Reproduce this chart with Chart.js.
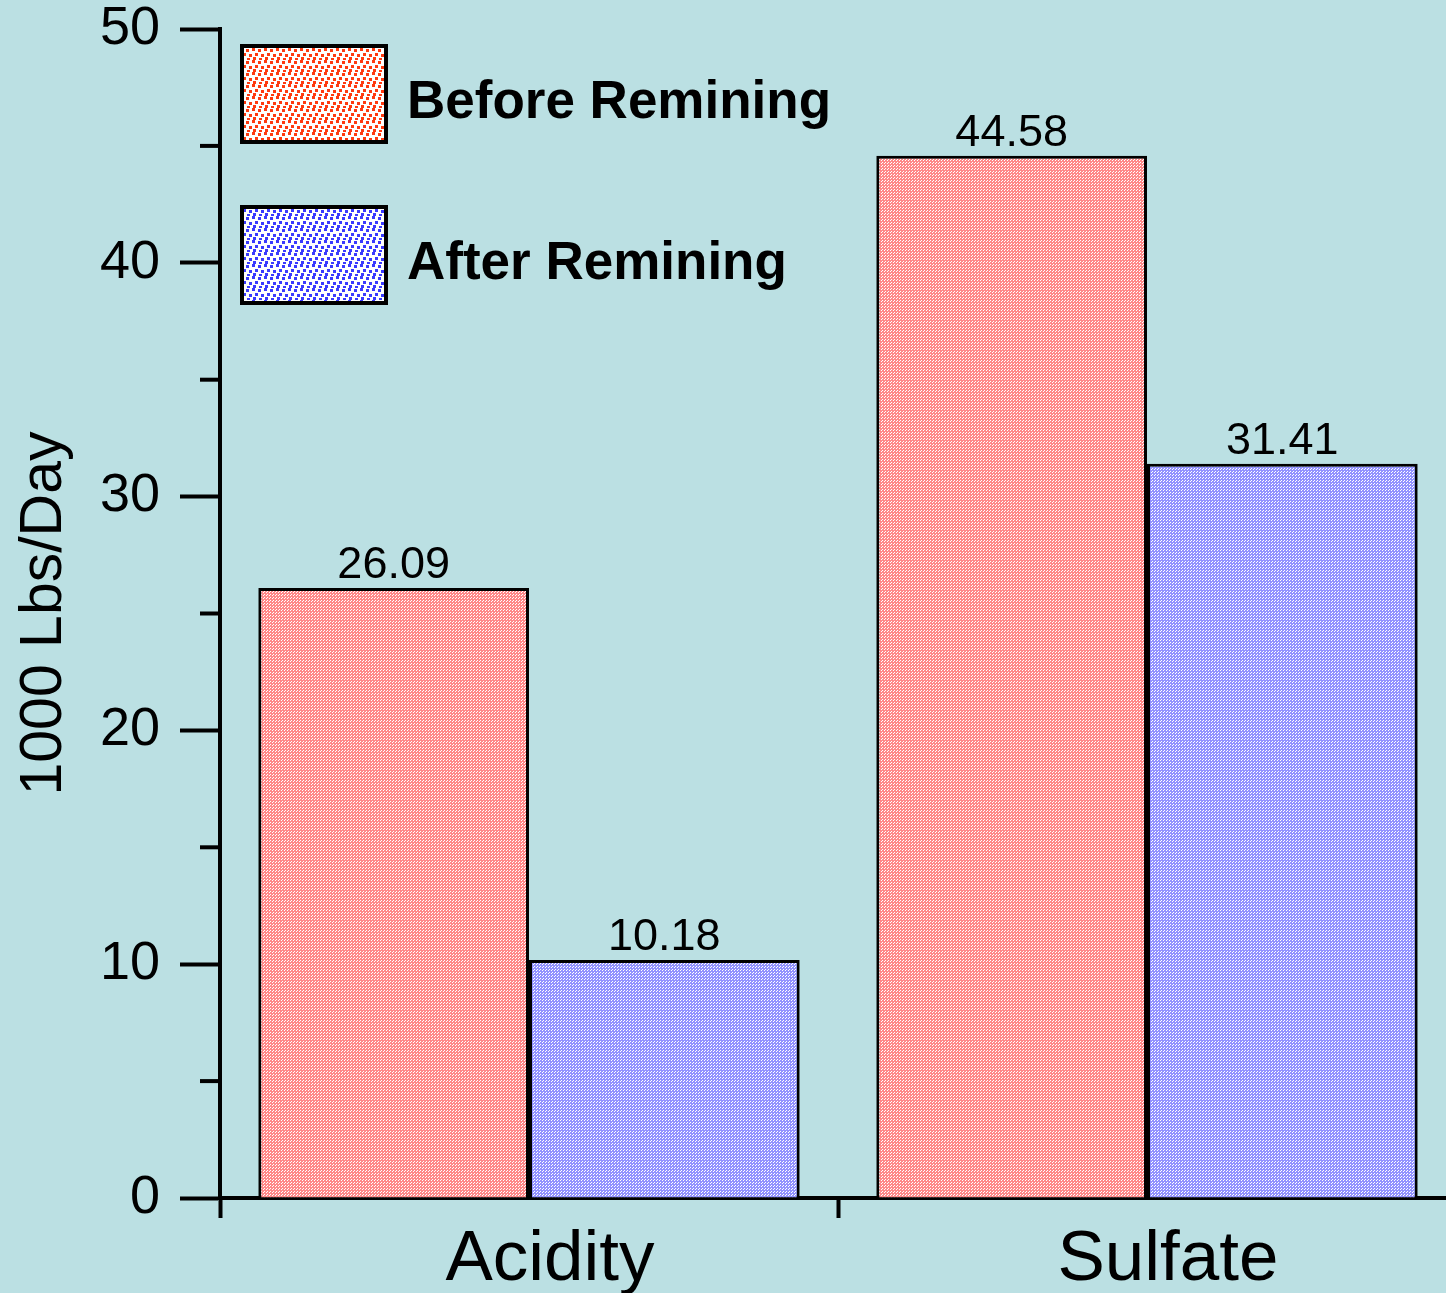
<!DOCTYPE html>
<html>
<head>
<meta charset="utf-8">
<title>Remining loads</title>
<script src="https://cdn.jsdelivr.net/npm/chart.js@4.4.0/dist/chart.umd.min.js"></script>
<style>
  html, body { margin: 0; padding: 0; overflow: hidden; background: #bbe0e3; }
  #wrap { width: 1500px; height: 1293px; position: relative; }
</style>
</head>
<body>
<div id="wrap"><canvas id="myChart"></canvas></div>
<script>
// data
const categories = ['Acidity', 'Sulfate'];
const seriesNames = ['Before Remining', 'After Remining'];
const beforeValues = [26.09, 44.58];
const afterValues = [10.18, 31.41];
const yTicks = [0, 10, 20, 30, 40, 50];
const yMinorTicks = [5, 15, 25, 35, 45];

const FONT = '"Liberation Sans", Arial, Helvetica, sans-serif';

// fine dither fill used on the bars
function finePattern(base) {
  const c = document.createElement('canvas');
  c.width = 3; c.height = 3;
  const g = c.getContext('2d');
  g.fillStyle = base;
  g.fillRect(0, 0, 3, 3);
  g.fillStyle = '#ffffff';
  g.fillRect(0, 0, 1, 1);
  g.fillRect(2, 1, 1, 1);
  return g.createPattern(c, 'repeat');
}

// coarse dotted fill used in the legend boxes
function dotPattern(color) {
  const c = document.createElement('canvas');
  c.width = 12; c.height = 12;
  const g = c.getContext('2d');
  g.fillStyle = '#ffffff';
  g.fillRect(0, 0, 12, 12);
  g.fillStyle = color;
  [[0, 0], [6, 1], [3, 5], [9, 6], [1, 9], [7, 10]].forEach(function(p) {
    g.fillRect(p[0], p[1], 3, 3);
  });
  return g.createPattern(c, 'repeat');
}

const extras = {
  id: 'extras',
  afterDraw(chart) {
    const ctx = chart.ctx;
    const area = chart.chartArea;
    const y = chart.scales.y;
    ctx.save();

    // minor ticks on the y axis
    ctx.strokeStyle = '#000';
    ctx.lineWidth = 4;
    yMinorTicks.forEach(function(v) {
      const py = y.getPixelForValue(v);
      ctx.beginPath();
      ctx.moveTo(area.left - 20, py);
      ctx.lineTo(area.left, py);
      ctx.stroke();
    });

    // value labels over the bars
    ctx.font = '45px ' + FONT;
    ctx.fillStyle = '#000';
    ctx.textAlign = 'center';
    ctx.textBaseline = 'alphabetic';
    chart.data.datasets.forEach(function(ds, i) {
      chart.getDatasetMeta(i).data.forEach(function(bar, j) {
        ctx.fillText(ds.data[j].toFixed(2), bar.x, bar.y - 10);
      });
    });

    // legend inside the plot
    ctx.textAlign = 'left';
    ctx.textBaseline = 'middle';
    ctx.font = 'bold 53px ' + FONT;
    chart.data.datasets.forEach(function(ds, i) {
      const bx = area.left + 22;
      const by = area.top + 17 + i * 161;
      ctx.fillStyle = ds.legendFill;
      ctx.fillRect(bx, by, 144, 96);
      ctx.strokeStyle = '#000';
      ctx.lineWidth = 4;
      ctx.strokeRect(bx, by, 144, 96);
      ctx.fillStyle = '#000';
      ctx.fillText(ds.label, bx + 165, by + 57);
    });
    ctx.restore();
  }
};

const ctx = document.getElementById('myChart');
const myChart = new Chart(ctx, {
  type: 'bar',
  data: {
    labels: categories,
    datasets: [{
      label: seriesNames[0],
      data: beforeValues,
      backgroundColor: finePattern('#ff8888'),
      legendFill: dotPattern('#ff3a10'),
      borderColor: '#000',
      borderWidth: 3,
      categoryPercentage: 0.876,
      barPercentage: 1
    }, {
      label: seriesNames[1],
      data: afterValues,
      backgroundColor: finePattern('#9292ff'),
      legendFill: dotPattern('#3a3aff'),
      borderColor: '#000',
      borderWidth: 3,
      categoryPercentage: 0.876,
      barPercentage: 1
    }]
  },
  options: {
    responsive: true,
    maintainAspectRatio: false,
    animation: false,
    layout: { padding: { left: 0, top: 29, right: 44, bottom: 0 } },
    plugins: {
      legend: { display: false },
      tooltip: { enabled: false }
    },
    scales: {
      x: {
        offset: true,
        afterFit: function(s) { s.height = 95; s.paddingLeft = 0; s.paddingRight = 0; },
        border: { display: true, color: '#000', width: 4 },
        grid: { drawOnChartArea: false, offset: true, tickLength: 20, tickWidth: 4, tickColor: '#000' },
        ticks: { color: '#000', font: { family: FONT, size: 71 }, padding: 0, labelOffset: 21 }
      },
      y: {
        min: 0,
        max: 50,
        afterFit: function(s) { s.width = 220; s.paddingTop = 0; s.paddingBottom = 0; },
        afterBuildTicks: function(s) { s.ticks = yTicks.map(function(v) { return { value: v }; }); },
        border: { display: true, color: '#000', width: 4 },
        grid: { drawOnChartArea: false, tickLength: 40, tickWidth: 4, tickColor: '#000' },
        ticks: { color: '#000', font: { family: FONT, size: 54, lineHeight: 1 }, padding: 20 },
        title: {
          display: true,
          text: '1000 Lbs/Day',
          color: '#000',
          font: { family: FONT, size: 59 },
          padding: { top: 9, bottom: 0 }
        }
      }
    }
  },
  plugins: [extras]
});
</script>
</body>
</html>
